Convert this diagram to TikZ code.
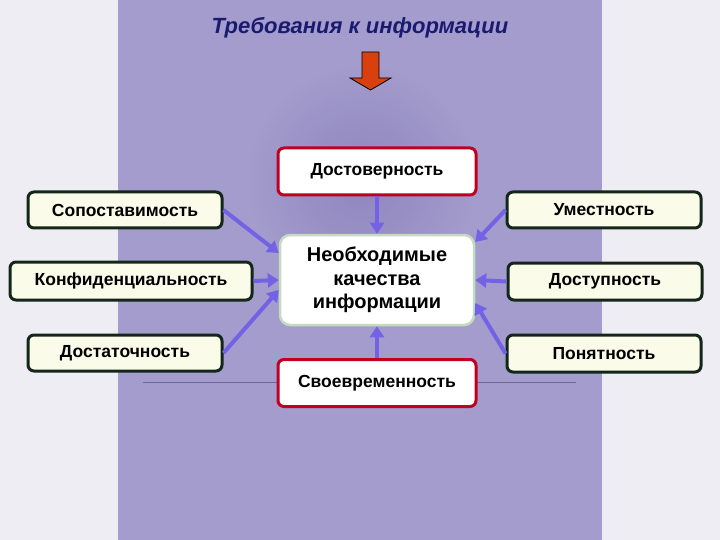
\documentclass[tikz,border=0pt]{standalone}
\usepackage{fontspec}
\setmainfont{Liberation Sans}
\usetikzlibrary{positioning,arrows.meta}
\definecolor{pagebg}{HTML}{EEEDF4}
\definecolor{band}{HTML}{A39CCC}
\definecolor{blot}{HTML}{8A80BC}
\definecolor{navy}{HTML}{1A1A70}
\definecolor{redrim}{HTML}{C0001E}
\definecolor{darkrim}{HTML}{14261A}
\definecolor{ivory}{HTML}{FBFBEA}
\definecolor{palegreen}{HTML}{C5DAC0}
\definecolor{linkblue}{HTML}{7462E6}
\definecolor{orangered}{HTML}{D8400E}

\begin{document}
\begin{tikzpicture}[x=1pt, y=-1pt,
    item/.style={draw=darkrim, line width=3pt, fill=ivory, rounded corners=6pt,
        minimum width=194pt, minimum height=36pt, font=\fontsize{17.5}{20}\selectfont\bfseries},
    key/.style={item, draw=redrim, fill=white, minimum width=198pt, minimum height=47pt},
    core/.style={draw=palegreen, line width=2.5pt, fill=white, rounded corners=10pt,
        minimum width=194pt, minimum height=90pt, align=center,
        font=\fontsize{20}{23.5}\selectfont\bfseries},
    link/.style={draw=linkblue, line width=4pt, -{Triangle[length=11pt,width=14pt]}}]
    % background
    \fill[pagebg] (0,0) rectangle (720,540);
    \fill[band] (118,0) rectangle (602,540);
    \shade[inner color=blot, outer color=band, opacity=0.8] (362,180) circle (115);
    \draw[blot!80!black, line width=0.6pt] (143,382) -- (576,382);

    \node[font=\fontsize{22}{26}\selectfont\bfseries\itshape, text=navy] (t) at (360,28) {Требования к информации};
    \draw[fill=orangered, line width=0.8pt] (362,52) -- (379,52) -- (379,78) -- (391,78)
        -- (370.5,90) -- (350,78) -- (362,78) -- cycle;

    \node[core] (nk) at (377,280) {Необходимые\\качества\\информации};
    \node[key] (dv) at (377,171.5) {Достоверность};
    \node[key] (sv) at (377,383) {Своевременность};
    \node[item] (sp) at (125,210) {Сопоставимость};
    \node[item, minimum width=242pt, minimum height=38pt] (kf) at (131,281) {Конфиденциальность};
    \node[item] (dt) at (125,353) {Достаточность};
    \node[item] (um) at (604,210) {Уместность};
    \node[item, minimum height=37pt] (ds) at (605,281.5) {Доступность};
    \node[item, minimum height=37pt] (pn) at (604,353.5) {Понятность};

    \draw[link] (dv) -- (nk);
    \draw[link] (sv) -- (nk);
    \draw[link] (sp.east) -- ([yshift=27pt]nk.west);
    \draw[link] (kf.east) -- (nk.west);
    \draw[link] (dt.east) -- ([yshift=-10pt]nk.west);
    \draw[link] (um.west) -- ([yshift=38pt]nk.east);
    \draw[link] (ds.west) -- (nk.east);
    \draw[link] (pn.west) -- ([yshift=-23pt]nk.east);
\end{tikzpicture}
\end{document}
